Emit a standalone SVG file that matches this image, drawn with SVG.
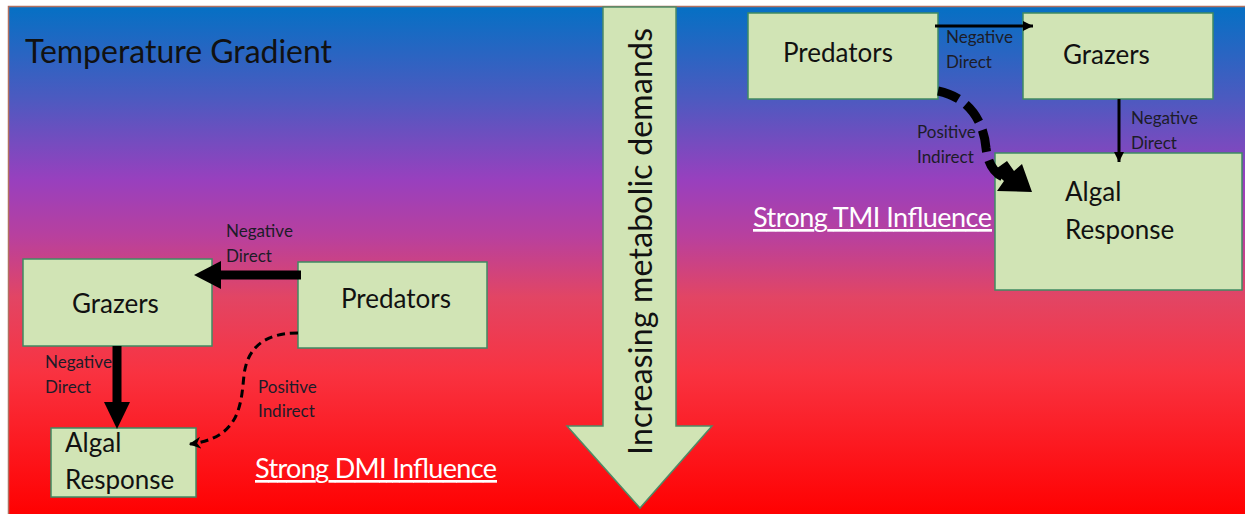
<svg xmlns="http://www.w3.org/2000/svg" width="1245" height="514" viewBox="0 0 1245 514">
<defs>
<linearGradient id="bg" x1="0" y1="0" x2="0" y2="1">
<stop offset="0" stop-color="#0570C4"/>
<stop offset="0.18" stop-color="#4C5AC0"/>
<stop offset="0.34" stop-color="#9840BE"/>
<stop offset="0.45" stop-color="#B8409E"/>
<stop offset="0.57" stop-color="#E24564"/>
<stop offset="0.72" stop-color="#F93240"/>
<stop offset="1" stop-color="#FF0000"/>
</linearGradient>
<marker id="ahSmall" viewBox="0 0 10 10" refX="9" refY="5" markerWidth="4" markerHeight="4" orient="auto" markerUnits="strokeWidth">
<path d="M0,0 L10,5 L0,10 L3,5 Z" fill="#000"/>
</marker>
<marker id="ahThin" viewBox="0 0 10 10" refX="10" refY="5" markerWidth="3.5" markerHeight="3.5" orient="auto" markerUnits="strokeWidth">
<path d="M0,0 L10,5 L0,10 Z" fill="#000"/>
</marker>
</defs>
<style>
.node rect{fill:#D1E4B5;stroke:#3F8A63;stroke-width:1.5}
.main{font-family:Lato,"Liberation Sans",sans-serif;font-size:26px;fill:#111}
.big{font-family:Lato,"Liberation Sans",sans-serif;font-size:32px;fill:#111}
.lab{font-family:Lato,"Liberation Sans",sans-serif;font-size:17px;fill:#1c1c28}
.strong{font-family:Lato,"Liberation Sans",sans-serif;font-size:27px;fill:#fff}
.conn{fill:none;stroke:#000}
</style>
<rect x="8.5" y="6.5" width="1240" height="510" fill="url(#bg)" stroke="#B07060" stroke-width="1.5"/>
<text class="big" x="25" y="63" textLength="307">Temperature Gradient</text>

<g id="big-arrow">
<path d="M603,7 L676,7 L676,426 L712,426 L640,508 L567,426 L603,426 Z" fill="#D1E4B5" stroke="#4E8A66" stroke-width="1.5"/>
<text class="big" transform="translate(652,455) rotate(-90)" textLength="427">Increasing metabolic demands</text>
</g>

<g id="r-predators" class="node"><rect x="748" y="13" width="190" height="86"/><text class="main" x="783" y="62">Predators</text></g>
<g id="r-grazers" class="node"><rect x="1023" y="13" width="190" height="86"/><text class="main" x="1063" y="64">Grazers</text></g>
<g id="r-algal" class="node"><rect x="995" y="153" width="247" height="137"/><text class="main" x="1065" y="201">Algal</text><text class="main" x="1065" y="239">Response</text></g>

<g id="l-grazers" class="node"><rect x="23" y="259" width="189" height="87"/><text class="main" x="72" y="313">Grazers</text></g>
<g id="l-predators" class="node"><rect x="298" y="262" width="189" height="86"/><text class="main" x="341" y="308">Predators</text></g>
<g id="l-algal" class="node"><rect x="51" y="428" width="145" height="69"/><text class="main" x="65" y="452">Algal</text><text class="main" x="65" y="489">Response</text></g>

<g id="labels">
<text class="lab" x="946" y="43">Negative</text><text class="lab" x="946" y="68">Direct</text>
<text class="lab" x="917" y="138">Positive</text><text class="lab" x="917" y="163">Indirect</text>
<text class="lab" x="1131" y="124">Negative</text><text class="lab" x="1131" y="149">Direct</text>
<text class="lab" x="226" y="237">Negative</text><text class="lab" x="226" y="262">Direct</text>
<text class="lab" x="45" y="368">Negative</text><text class="lab" x="45" y="393">Direct</text>
<text class="lab" x="258" y="393">Positive</text><text class="lab" x="258" y="417">Indirect</text>
<text class="strong" x="753" y="227" text-decoration="underline" textLength="239">Strong TMI Influence</text>
<text class="strong" x="255" y="478" text-decoration="underline" textLength="242">Strong DMI Influence</text>
</g>

<g id="connectors">
<line class="conn" x1="935" y1="26" x2="1033" y2="26" stroke-width="3" marker-end="url(#ahThin)"/>
<line class="conn" x1="1119" y1="99" x2="1119" y2="162" stroke-width="3" marker-end="url(#ahThin)"/>
<path class="conn" d="M938,91 C972,98 984,125 986,148 C988,165 995,174 1005,178" stroke-width="9" stroke-dasharray="22 9"/>
<path d="M1032,192 L997,191 L1004,181 L993,171 L1007,161 L1014,171 L1022,164 Z" fill="#000"/>
<line class="conn" x1="301" y1="275" x2="220" y2="275" stroke-width="9"/>
<path d="M194,275 L221,261 L221,289 Z" fill="#000"/>
<line class="conn" x1="117" y1="346" x2="117" y2="403" stroke-width="9"/>
<path d="M117,429 L104,402 L130,402 Z" fill="#000"/>
<path class="conn" d="M298,333 C262,333 247,350 244,375 C241,405 240,438 190,444" stroke-width="3" stroke-dasharray="8 5" marker-end="url(#ahSmall)"/>
</g>
</svg>
